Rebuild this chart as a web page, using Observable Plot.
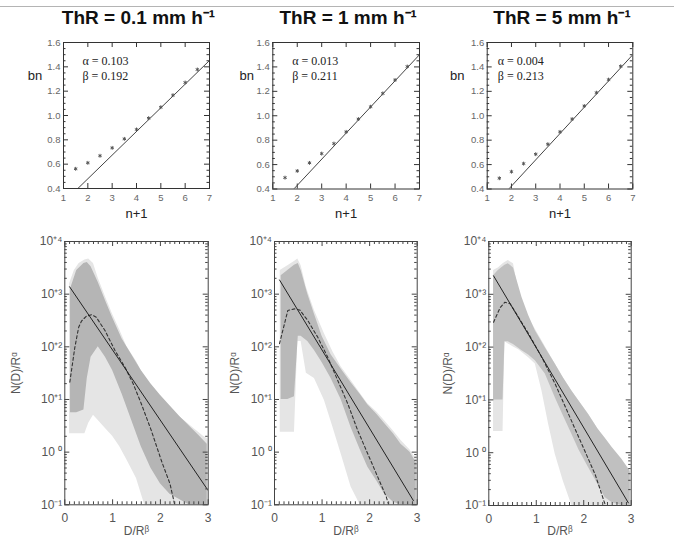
<!DOCTYPE html>
<html><head><meta charset="utf-8">
<script src="https://cdn.jsdelivr.net/npm/d3@7"></script>
<script src="https://cdn.jsdelivr.net/npm/@observablehq/plot@0.6"></script>
<style>
body{margin:0;background:#fff}
#wrap{position:relative;width:674px;height:538px;overflow:hidden;background:#fff}
#wrap svg{position:absolute;left:0;top:0}
.hr{position:absolute;left:0;top:6px;width:674px;height:0;border-top:1px solid #b4b4b4}
</style>
</head><body><div id="wrap"><div class="hr"></div></div>
<script>
// ---------- data ----------
const titles = ["ThR = 0.1 mm h⁻¹", "ThR = 1 mm h⁻¹", "ThR = 5 mm h⁻¹"];
const alphaLabels = ["α = 0.103", "α = 0.013", "α = 0.004"];
const betaLabels = ["β = 0.192", "β = 0.211", "β = 0.213"];

// top panels: bn vs n+1
const nPlus1 = [1.5, 2, 2.5, 3, 3.5, 4, 4.5, 5, 5.5, 6, 6.5];
const bnThR01 = [0.562, 0.611, 0.669, 0.734, 0.808, 0.885, 0.978, 1.068, 1.167, 1.271, 1.378];
const bnThR1 = [0.493, 0.548, 0.614, 0.690, 0.772, 0.868, 0.973, 1.074, 1.183, 1.293, 1.403];
const bnThR5 = [0.488, 0.542, 0.608, 0.685, 0.767, 0.868, 0.973, 1.080, 1.189, 1.296, 1.405];
const fitXThR01 = [1.59, 7], fitYThR01 = [0.4, 1.452];
const fitXThR1 = [1.86, 7], fitYThR1 = [0.4, 1.50];
const fitXThR5 = [1.89, 7], fitYThR5 = [0.4, 1.50];
const topXTicks = [1, 2, 3, 4, 5, 6, 7];
const topYTicks = [0.4, 0.6, 0.8, 1.0, 1.2, 1.4, 1.6];

// bottom panels: N(D)/R^a vs D/R^b (values as log10 exponents)
// outer envelope of the spectra cloud (sparse lines) and dense core
const envD01 = [0.1,0.2,0.3,0.42,0.5,0.6,0.7,0.85,1.0,1.15,1.3,1.5,1.67,1.9,2.1,2.3,2.5,2.7,2.9,3.0];
const envUp01 = [3.2,3.45,3.58,3.65,3.67,3.58,3.3,2.95,2.62,2.32,2.0,1.72,1.42,1.15,0.93,0.73,0.6,0.45,0.3,0.25];
const envLo01 = [0.35,0.35,0.35,0.35,0.55,0.7,0.6,0.45,0.3,0.1,-0.15,-0.5,-1,-1,-1,-1,-1,-1,-1,-1];
const coreD01 = [0.12,0.25,0.4,0.47,0.55,0.7,0.85,1.0,1.2,1.4,1.6,1.8,2.0,2.2,2.4,2.6,2.8,2.98];
const coreUp01 = [3.1,3.45,3.58,3.6,3.52,3.22,2.88,2.55,2.15,1.85,1.55,1.3,1.08,0.88,0.68,0.5,0.32,0.15];
const coreLo01 = [0.75,0.75,0.8,1.4,1.8,2.0,1.8,1.55,1.1,0.6,0.1,-0.3,-0.6,-0.8,-0.9,-1,-1,-1];
const solidD01 = [0.1, 3.0], solidV01 = [3.14, -0.73];
const dashD01 = [0.105,0.21,0.29,0.35,0.45,0.56,0.66,0.84,1.05,1.26,1.43,1.6,1.81,2.02,2.2,2.3];
const dashV01 = [1.33,1.99,2.37,2.49,2.58,2.61,2.56,2.31,1.93,1.61,1.30,0.92,0.41,-0.16,-0.6,-1];

const envD1 = [0.12,0.28,0.42,0.49,0.56,0.67,0.84,1.05,1.23,1.4,1.61,1.8,1.96,2.15,2.31,2.5,2.66,2.85,3.0];
const envUp1 = [3.45,3.54,3.62,3.67,3.54,3.13,2.69,2.25,1.9,1.62,1.36,1.12,0.92,0.76,0.6,0.4,0.22,0.04,-0.16];
const envLo1 = [0.38,0.38,0.38,2.1,2.1,1.5,1.4,0.98,0.47,-0.03,-0.66,-1,-1,-1,-1,-1,-1,-1,-1];
const coreD1 = [0.14,0.28,0.42,0.5,0.56,0.7,0.84,1.0,1.19,1.4,1.61,1.8,1.96,2.15,2.31,2.5,2.66,2.85,2.98];
const coreUp1 = [3.35,3.45,3.55,3.58,3.45,3.0,2.62,2.2,1.85,1.58,1.32,1.1,0.9,0.72,0.55,0.35,0.15,0.0,-0.2];
const coreLo1 = [1.0,1.0,1.05,2.2,2.2,2.1,1.93,1.7,1.4,1.0,0.47,0.05,-0.28,-0.55,-0.79,-0.95,-1,-1,-1];
const solidD1 = [0.105, 2.92], solidV1 = [3.27, -0.92];
const dashD1 = [0.105,0.28,0.42,0.53,0.70,0.91,1.12,1.33,1.54,1.75,1.96,2.17,2.35,2.40];
const dashV1 = [2.06,2.69,2.72,2.70,2.50,2.18,1.80,1.36,0.92,0.41,-0.03,-0.47,-0.85,-1];

const envD5 = [0.1,0.2,0.3,0.34,0.41,0.52,0.63,0.84,0.98,1.12,1.26,1.4,1.57,1.75,1.9,2.1,2.3,2.45,2.6,2.8,3.0];
const envUp5 = [3.45,3.5,3.58,3.6,3.64,3.58,3.07,2.56,2.34,2.12,1.9,1.68,1.42,1.17,0.98,0.73,0.45,0.22,0.08,-0.16,-0.41];
const envLo5 = [0.4,0.4,0.4,2.1,2.06,2.0,1.95,1.8,1.68,1.17,0.54,-0.03,-0.54,-1,-1,-1,-1,-1,-1,-1,-1];
const coreD5 = [0.1,0.2,0.3,0.34,0.41,0.52,0.7,0.84,0.98,1.19,1.4,1.57,1.75,1.9,2.1,2.3,2.45,2.6,2.8,2.98];
const coreUp5 = [3.35,3.45,3.52,3.55,3.58,3.5,2.94,2.6,2.31,1.99,1.68,1.42,1.17,0.98,0.73,0.45,0.28,0.1,-0.12,-0.35];
const coreLo5 = [1.0,1.0,1.0,2.1,2.1,2.05,1.93,1.85,1.74,1.49,1.04,0.7,0.35,0.05,-0.28,-0.6,-0.85,-0.95,-1,-1];
const solidD5 = [0.1, 2.94], solidV5 = [3.35, -0.95];
const dashD5 = [0.1,0.24,0.34,0.45,0.63,0.84,1.12,1.40,1.68,1.96,2.24,2.45];
const dashV5 = [2.47,2.75,2.85,2.82,2.56,2.25,1.80,1.30,0.73,0.16,-0.41,-0.98];

const botXTicks = [0, 1, 2, 3];
const botYTicks = [0.1, 1, 10, 100, 1000, 10000];
const botYTickLabels = ["10⁻¹", "10 ⁰", "10⁺¹", "10⁺²", "10⁺³", "10⁺⁴"];

// ---------- layout ----------
const W = 674, H = 538;
const wrap = document.getElementById("wrap");
const sans = "'Liberation Sans', Arial, Helvetica, sans-serif";
const topFrames = [{l:63,r:209,t:42,b:188},{l:272.3,r:419,t:42,b:188.5},{l:486.7,r:632.3,t:42,b:188.5}];
const botFrames = [{l:64.3,r:207.7,t:241,b:504.3},{l:274,r:416.7,t:241,b:504.3},{l:488.3,r:630.7,t:241,b:505}];
const bnDx = [-28.5, -26, -30];
const nlabDx = [-49, -39, -41];
const abDx = [19, 19.4, 10.6];
const coreFill = ["#b5b5b5", "#b9b9b9", "#c0c0c0"];
const envFill = "#e5e5e5";

const bnSeries = [bnThR01, bnThR1, bnThR5];
const fitSeries = [[fitXThR01, fitYThR01], [fitXThR1, fitYThR1], [fitXThR5, fitYThR5]];
const botSeries = [
  {envD: envD01, envUp: envUp01, envLo: envLo01, coreD: coreD01, coreUp: coreUp01, coreLo: coreLo01, sD: solidD01, sV: solidV01, dD: dashD01, dV: dashV01},
  {envD: envD1, envUp: envUp1, envLo: envLo1, coreD: coreD1, coreUp: coreUp1, coreLo: coreLo1, sD: solidD1, sV: solidV1, dD: dashD1, dV: dashV1},
  {envD: envD5, envUp: envUp5, envLo: envLo5, coreD: coreD5, coreUp: coreUp5, coreLo: coreLo5, sD: solidD5, sV: solidV5, dD: dashD5, dV: dashV5}
];

function place(chart) { wrap.appendChild(chart); }

const topYMinor = d3.range(0.4, 1.6001, 0.05).filter(v => Math.abs(v * 5 - Math.round(v * 5)) > 1e-6);
const botXMinor = d3.range(0, 3.0001, 0.1).filter(v => Math.abs(v - Math.round(v)) > 1e-6);
const botYMinor = [];
for (let k = -1; k <= 3; k++) for (let m = 2; m <= 9; m++) botYMinor.push(m * Math.pow(10, k));

function topPanel(i) {
  const f = topFrames[i];
  const fw = f.r - f.l, fh = f.b - f.t;
  const pts = nPlus1.map((x, j) => ({x, y: bnSeries[i][j]}));
  const fit = fitSeries[i][0].map((x, j) => ({x, y: fitSeries[i][1][j]}));
  const tk = "#333";
  const serif = "'Liberation Serif', 'Times New Roman', serif";
  return Plot.plot({
    width: W, height: H,
    marginLeft: f.l, marginRight: W - f.r, marginTop: f.t, marginBottom: H - f.b,
    style: {background: "transparent", fontFamily: sans, overflow: "visible"},
    x: {domain: [1, 7], axis: null},
    y: {domain: [0.4, 1.6], axis: null},
    marks: [
      Plot.tickX(topXTicks, {x: d => d, insetTop: fh - 5, stroke: tk}),
      Plot.tickX(topXTicks, {x: d => d, insetBottom: fh - 5, stroke: tk}),
      Plot.tickY(topYTicks, {y: d => d, insetRight: fw - 5, stroke: tk}),
      Plot.tickY(topYTicks, {y: d => d, insetLeft: fw - 5, stroke: tk}),
      Plot.tickY(topYMinor, {y: d => d, insetRight: fw - 2.5, stroke: tk}),
      Plot.tickY(topYMinor, {y: d => d, insetLeft: fw - 2.5, stroke: tk}),
      Plot.line(fit, {x: "x", y: "y", stroke: "#444", strokeWidth: 1, clip: true}),
      Plot.dot(pts, {x: "x", y: "y", symbol: "asterisk", r: 1.8, stroke: "#555", strokeWidth: 1}),
      Plot.frame({stroke: "#333"}),
      Plot.text(topXTicks, {x: d => d, frameAnchor: "bottom", dy: 9, text: d => String(d), fontSize: 9.5, fill: "#666", lineAnchor: "middle"}),
      Plot.text(topYTicks, {y: d => d, frameAnchor: "left", dx: -3, textAnchor: "end", text: d => d.toFixed(1), fontSize: 9.5, fill: "#666", lineAnchor: "middle"}),
      Plot.text([titles[i]], {frameAnchor: "top", dx: 2, dy: -25, text: d => d, fontSize: 19, fontWeight: "bold", fill: "#111", lineAnchor: "middle"}),
      Plot.text(["bn"], {frameAnchor: "top-left", dx: bnDx[i], dy: 33, text: d => d, textAnchor: "middle", lineAnchor: "middle", fontSize: 13, fill: "#222"}),
      Plot.text(["n+1"], {frameAnchor: "bottom", dy: 25, text: d => d, textAnchor: "middle", lineAnchor: "middle", fontSize: 13, fill: "#222"}),
      Plot.text([alphaLabels[i]], {frameAnchor: "top-left", dx: abDx[i], dy: 19, text: d => d, textAnchor: "start", lineAnchor: "middle", fontSize: 12, fontFamily: serif, fill: "#222"}),
      Plot.text([betaLabels[i]], {frameAnchor: "top-left", dx: abDx[i], dy: 34, text: d => d, textAnchor: "start", lineAnchor: "middle", fontSize: 12, fontFamily: serif, fill: "#222"})
    ]
  });
}

function botPanel(i) {
  const f = botFrames[i];
  const fw = f.r - f.l, fh = f.b - f.t;
  const s = botSeries[i];
  const env = s.envD.map((D, j) => ({D, up: Math.pow(10, s.envUp[j]), lo: Math.pow(10, s.envLo[j])}));
  const core = s.coreD.map((D, j) => ({D, up: Math.pow(10, s.coreUp[j]), lo: Math.pow(10, s.coreLo[j])}));
  const solid = s.sD.map((D, j) => ({D, v: Math.pow(10, s.sV[j])}));
  const dash = s.dD.map((D, j) => ({D, v: Math.pow(10, s.dV[j])}));
  const tk = "#444";
  return Plot.plot({
    width: W, height: H,
    marginLeft: f.l, marginRight: W - f.r, marginTop: f.t, marginBottom: H - f.b,
    style: {background: "transparent", fontFamily: sans, overflow: "visible"},
    x: {domain: [0, 3], axis: null},
    y: {type: "log", domain: [0.1, 10000], axis: null},
    marks: [
      Plot.areaY(env, {x: "D", y1: "lo", y2: "up", fill: envFill, clip: true}),
      Plot.areaY(core, {x: "D", y1: "lo", y2: "up", fill: coreFill[i], clip: true}),
      Plot.line(dash, {x: "D", y: "v", stroke: "#333", strokeWidth: 1.1, strokeDasharray: "3,2.5", clip: true}),
      Plot.line(solid, {x: "D", y: "v", stroke: "#222", strokeWidth: 1, clip: true}),
      Plot.tickX(botXTicks, {x: d => d, insetTop: fh - 5, stroke: tk}),
      Plot.tickX(botXTicks, {x: d => d, insetBottom: fh - 5, stroke: tk}),
      Plot.tickX(botXMinor, {x: d => d, insetTop: fh - 3, stroke: tk}),
      Plot.tickX(botXMinor, {x: d => d, insetBottom: fh - 3, stroke: tk}),
      Plot.tickY(botYTicks, {y: d => d, insetRight: fw - 5, stroke: tk}),
      Plot.tickY(botYTicks, {y: d => d, insetLeft: fw - 5, stroke: tk}),
      Plot.tickY(botYMinor, {y: d => d, insetRight: fw - 2.5, stroke: tk}),
      Plot.tickY(botYMinor, {y: d => d, insetLeft: fw - 2.5, stroke: tk}),
      Plot.frame({stroke: "#444"}),
      Plot.text(botXTicks, {x: d => d, frameAnchor: "bottom", dy: 13.5, text: d => String(d), fontSize: 12, fill: "#555", lineAnchor: "middle"}),
      Plot.text(botYTicks, {y: d => d, frameAnchor: "left", dx: -2.5, textAnchor: "end", text: (d, j) => botYTickLabels[j], fontSize: 12, fill: "#555", lineAnchor: "middle"}),
      Plot.text(["D/Rᵝ"], {frameAnchor: "bottom", dy: 26, text: d => d, textAnchor: "middle", lineAnchor: "middle", fontSize: 12, fill: "#555"}),
      Plot.text(["N(D)/Rᵅ"], {frameAnchor: "left", dx: nlabDx[i], text: d => d, rotate: -90, textAnchor: "middle", lineAnchor: "middle", fontSize: 12, fill: "#555"})
    ]
  });
}

for (let i = 0; i < 3; i++) { place(topPanel(i)); place(botPanel(i)); }
</script>
</body></html>
